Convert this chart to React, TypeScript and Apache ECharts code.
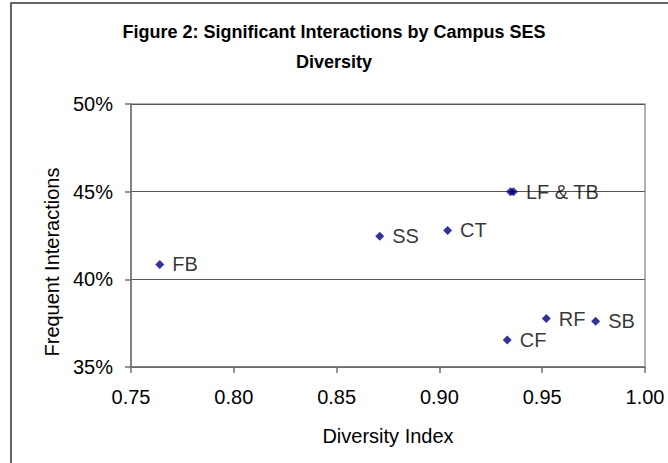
import React, { useEffect, useRef } from "react";
import * as echarts from "echarts";

const pointNames = ["FB", "SS", "CT", "LF", "TB", "CF", "RF", "SB"];
const pointLabels = ["FB", "SS", "CT", "", "LF & TB", "CF", "RF", "SB"];
const diversityIndex = [0.764, 0.871, 0.904, 0.9346, 0.936, 0.933, 0.952, 0.976];
const frequentInteractions = [40.85, 42.46, 42.79, 45.0, 45.0, 36.54, 37.76, 37.61];

const titleText = "Figure 2: Significant Interactions by Campus SES\nDiversity";
const xAxisName = "Diversity Index";
const yAxisName = "Frequent Interactions";

const FONT = "'Liberation Sans', Arial, Helvetica, sans-serif";

export default function App() {
  const ref = useRef<HTMLDivElement>(null);

  useEffect(() => {
    if (!ref.current) return;
    const chart = echarts.init(ref.current, undefined, { renderer: "svg" });
    const data = pointNames.map((n, i) => ({
      name: n,
      value: [diversityIndex[i], frequentInteractions[i]],
      label: { formatter: pointLabels[i] },
    }));
    chart.setOption({
      animation: false,
      backgroundColor: "#ffffff",
      title: {
        text: titleText,
        left: "center",
        top: 17,
        padding: 0,
        textStyle: {
          fontFamily: FONT,
          fontSize: 18,
          fontWeight: "bold",
          color: "#000",
          lineHeight: 30,
        },
      },
      grid: {
        left: 131,
        right: 23,
        top: 104,
        bottom: 96,
        show: true,
        borderColor: "#999999",
        borderWidth: 1.5,
        backgroundColor: "transparent",
      },
      xAxis: {
        type: "value",
        min: 0.75,
        max: 1.0,
        interval: 0.05,
        name: xAxisName,
        nameLocation: "middle",
        nameGap: 59,
        nameTextStyle: { fontFamily: FONT, fontSize: 20, color: "#000" },
        axisLine: { show: true, lineStyle: { color: "#707070", width: 1.5 } },
        axisTick: { show: true, inside: false, length: 6, lineStyle: { color: "#707070", width: 1.5 } },
        axisLabel: {
          margin: 20,
          fontFamily: FONT,
          fontSize: 20,
          color: "#000",
          formatter: (v: number) => v.toFixed(2),
        },
        splitLine: { show: false },
      },
      yAxis: {
        type: "value",
        min: 35,
        max: 50,
        interval: 5,
        axisLine: { show: true, lineStyle: { color: "#707070", width: 1.5 } },
        axisTick: { show: true, inside: false, length: 6, lineStyle: { color: "#707070", width: 1.5 } },
        axisLabel: {
          margin: 18,
          fontFamily: FONT,
          fontSize: 20,
          color: "#000",
          formatter: "{value}%",
        },
        splitLine: { show: true, lineStyle: { color: "#555555", width: 1 } },
      },
      graphic: [
        {
          type: "rect",
          silent: true,
          shape: { x: 11, y: 3, width: 700, height: 500 },
          style: { fill: "none", stroke: "#333333", lineWidth: 1.5 },
          z: 100,
        },
        {
          type: "text",
          x: 52,
          y: 262,
          rotation: Math.PI / 2,
          style: {
            text: yAxisName,
            fontFamily: FONT,
            fontSize: 20,
            fill: "#000",
            align: "center",
            verticalAlign: "middle",
          },
        },
      ],
      series: [
        {
          type: "scatter",
          symbol: "diamond",
          symbolSize: 9,
          itemStyle: { color: "#000080" },
          label: {
            show: true,
            position: "right",
            distance: 8,
            fontFamily: FONT,
            fontSize: 20,
            color: "#000",
          },
          data,
        },
      ],
    });
    return () => chart.dispose();
  }, []);

  return (
    <div
      ref={ref}
      style={{ position: "fixed", left: 0, top: 0, width: 668, height: 463, background: "#fff" }}
    />
  );
}
